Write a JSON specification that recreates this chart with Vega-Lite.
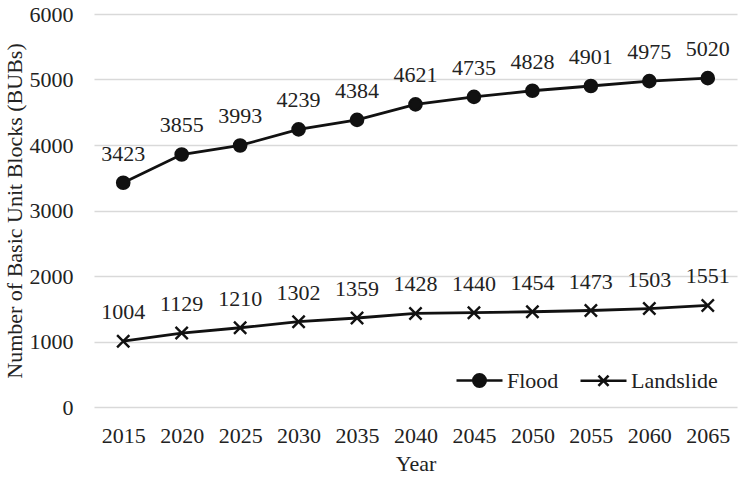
{
  "$schema": "https://vega.github.io/schema/vega-lite/v6.json",
  "width": 643,
  "height": 393,
  "autosize": "none",
  "padding": {"left": 94, "top": 14, "right": 1, "bottom": 75},
  "background": "white",
  "config": {
    "view": {"stroke": null},
    "font": "Times New Roman, Liberation Serif, serif"
  },
  "datasets": {
    "main": [
      {"year": "2015", "type": "Flood", "count": 3423},
      {"year": "2020", "type": "Flood", "count": 3855},
      {"year": "2025", "type": "Flood", "count": 3993},
      {"year": "2030", "type": "Flood", "count": 4239},
      {"year": "2035", "type": "Flood", "count": 4384},
      {"year": "2040", "type": "Flood", "count": 4621},
      {"year": "2045", "type": "Flood", "count": 4735},
      {"year": "2050", "type": "Flood", "count": 4828},
      {"year": "2055", "type": "Flood", "count": 4901},
      {"year": "2060", "type": "Flood", "count": 4975},
      {"year": "2065", "type": "Flood", "count": 5020},
      {"year": "2015", "type": "Landslide", "count": 1004},
      {"year": "2020", "type": "Landslide", "count": 1129},
      {"year": "2025", "type": "Landslide", "count": 1210},
      {"year": "2030", "type": "Landslide", "count": 1302},
      {"year": "2035", "type": "Landslide", "count": 1359},
      {"year": "2040", "type": "Landslide", "count": 1428},
      {"year": "2045", "type": "Landslide", "count": 1440},
      {"year": "2050", "type": "Landslide", "count": 1454},
      {"year": "2055", "type": "Landslide", "count": 1473},
      {"year": "2060", "type": "Landslide", "count": 1503},
      {"year": "2065", "type": "Landslide", "count": 1551}
    ]
  },
  "data": {"name": "main"},
  "encoding": {
    "x": {
      "field": "year",
      "type": "ordinal",
      "scale": {"type": "point", "padding": 0.5},
      "axis": {
        "title": "Year",
        "titleFont": "Times New Roman, Liberation Serif, serif",
        "titleFontSize": 22,
        "titleFontWeight": "normal",
        "titleColor": "#222",
        "titlePadding": 7,
        "labelFont": "Times New Roman, Liberation Serif, serif",
        "labelFontSize": 22,
        "labelColor": "#222",
        "labelAngle": 0,
        "labelPadding": 18,
        "ticks": false,
        "domain": false,
        "grid": false
      }
    },
    "y": {
      "field": "count",
      "type": "quantitative",
      "scale": {"domain": [0, 6000]},
      "axis": {
        "title": "Number of Basic Unit Blocks (BUBs)",
        "titleFont": "Times New Roman, Liberation Serif, serif",
        "titleFontSize": 22,
        "titleFontWeight": "normal",
        "titleColor": "#222",
        "titlePadding": 3,
        "labelFont": "Times New Roman, Liberation Serif, serif",
        "labelFontSize": 22,
        "labelColor": "#222",
        "labelPadding": 21,
        "values": [0, 1000, 2000, 3000, 4000, 5000, 6000],
        "format": "d",
        "ticks": false,
        "domain": false,
        "grid": true,
        "gridColor": "#d9d9d9",
        "gridWidth": 1.5
      }
    }
  },
  "resolve": {"scale": {"shape": "independent", "stroke": "independent"}, "legend": {"shape": "independent", "stroke": "independent"}},
  "layer": [
    {
      "mark": {"type": "line", "color": "#111", "strokeWidth": 2.8},
      "encoding": {"detail": {"field": "type"}}
    },
    {
      "mark": {"type": "point", "filled": true, "fill": "#111", "stroke": "#111", "strokeWidth": 2.4, "size": 150, "opacity": 1},
      "encoding": {
        "shape": {
          "field": "type",
          "type": "nominal",
          "scale": {"domain": ["Flood", "Landslide"], "range": ["circle", "M-1,-1L1,1M-1,1L1,-1"]},
          "legend": null
        }
      }
    },
    {
      "mark": {"type": "point", "filled": false, "fill": "#111", "strokeWidth": 2.6, "size": 0, "opacity": 1},
      "encoding": {
        "stroke": {
          "field": "type",
          "type": "nominal",
          "scale": {"domain": ["Flood", "Landslide"], "range": ["#111111", "#111111"]},
          "legend": {
            "title": null,
            "orient": "none",
            "legendX": 361,
            "legendY": 342,
            "direction": "horizontal",
            "symbolSize": 2116,
            "symbolStrokeWidth": 2.6,
            "symbolFillColor": "#111",
            "symbolOpacity": 1,
            "labelFont": "Times New Roman, Liberation Serif, serif",
            "labelFontSize": 22,
            "labelColor": "#222",
            "labelOffset": 3,
            "columnPadding": 16
          }
        },
        "shape": {
          "field": "type",
          "type": "nominal",
          "scale": {"domain": ["Flood", "Landslide"], "range": ["M-1,0H1M0.27,0A0.27,0.27 0 1,1 -0.27,0A0.27,0.27 0 1,1 0.27,0Z", "M-1,0H1M-0.22,-0.22L0.22,0.22M-0.22,0.22L0.22,-0.22"]},
          "legend": {
            "title": null,
            "orient": "none",
            "legendX": 361,
            "legendY": 342,
            "direction": "horizontal",
            "symbolSize": 2116,
            "symbolStrokeWidth": 2.6,
            "symbolFillColor": "#111",
            "symbolOpacity": 1,
            "labelFont": "Times New Roman, Liberation Serif, serif",
            "labelFontSize": 22,
            "labelColor": "#222",
            "labelOffset": 3,
            "columnPadding": 16
          }
        }
      }
    },
    {
      "mark": {"type": "text", "dy": -29, "fontSize": 22, "font": "Times New Roman, Liberation Serif, serif", "color": "#222", "baseline": "middle"},
      "encoding": {"text": {"field": "count", "type": "quantitative", "format": "d"}}
    },
    {
      "data": {"values": [{"label": "Total BUBs: 7619"}]},
      "mark": {"type": "text", "fontSize": 22, "font": "Times New Roman, Liberation Serif, serif", "color": "#222", "baseline": "middle", "align": "left", "dx": -53},
      "encoding": {
        "x": {"datum": "2020", "type": "ordinal"},
        "y": {"datum": 5570, "type": "quantitative"},
        "text": {"field": "label"}
      }
    }
  ]
}
